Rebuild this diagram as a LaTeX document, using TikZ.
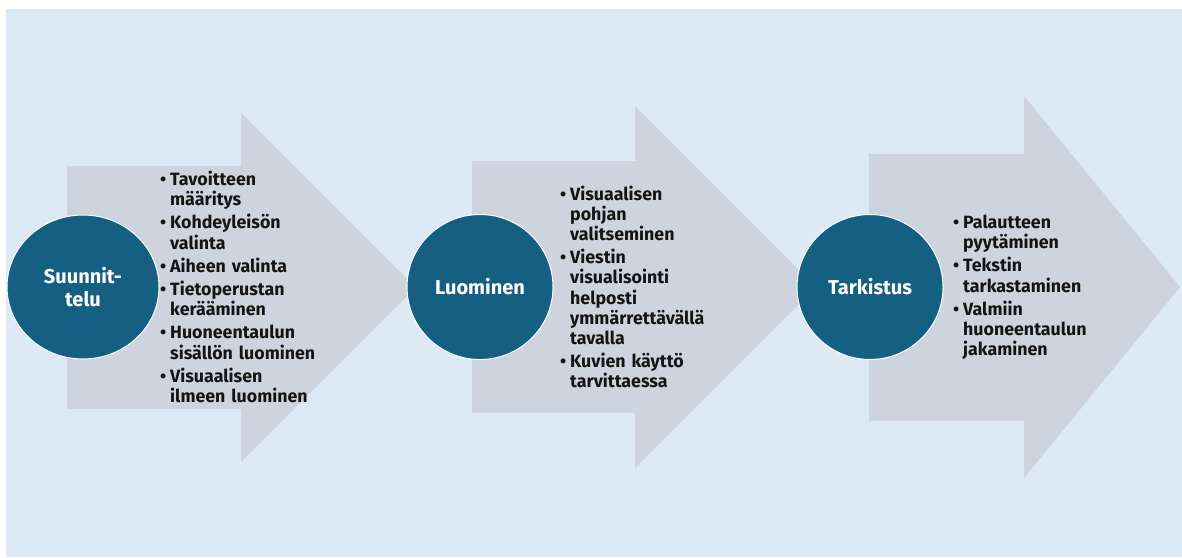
\documentclass[tikz,border=0pt]{standalone}
\usepackage{fontspec}
\setmainfont{Fira Sans}
\usepackage{enumitem}
\usepackage{tikz}
\usetikzlibrary{positioning,shapes.geometric}
\definecolor{PanelBlue}{RGB}{221,234,246}
\definecolor{ArrowGray}{RGB}{206,212,221}
\definecolor{StageTeal}{RGB}{21,96,130}
\definecolor{InkBlack}{RGB}{20,20,20}

\newenvironment{steplist}{%
  \begin{itemize}[leftmargin=10pt, labelsep=4pt, label=\textbullet,
    itemsep=3pt, topsep=0pt, parsep=0pt, partopsep=0pt]}{\end{itemize}}

\begin{document}
\begin{tikzpicture}[
  x=1pt, y=-1pt,
  stage/.style={ellipse, fill=StageTeal, draw=white, line width=1pt, inner sep=0pt,
    text=white, align=center, font=\bfseries\fontsize{20}{22.5}\selectfont},
  items/.style={anchor=west, inner sep=0pt, text width=180pt, text=InkBlack,
    font=\bfseries\fontsize{17.8}{20.2}\selectfont},
  shaft/.style={fill=ArrowGray}
]
  \useasboundingbox (0,0) rectangle (1182,557);
  \fill[PanelBlue] (6,9) rectangle (1182,557);

  % block arrows
  \fill[shaft] (67,166) -- (241,166) -- (241,113) -- (415.5,287.5) -- (241,462)
    -- (241,409) -- (67,409) -- cycle;
  \fill[shaft] (472,161) -- (635,161) -- (635,106) -- (816,287) -- (635,468)
    -- (635,413) -- (472,413) -- cycle;
  \fill[shaft] (869,154) -- (1024,154) -- (1024,96) -- (1180,287) -- (1024,478)
    -- (1024,421) -- (869,421) -- cycle;

  % stages
  \node[stage, minimum width=152pt, minimum height=144pt] (plan) at (83,287) {Suunnit-\\telu};
  \node[stage, minimum width=146pt, minimum height=145pt] (create) at (480,287) {Luominen};
  \node[stage, minimum width=146pt, minimum height=145pt] (check) at (870,287) {Tarkistus};

  % tasks
  \node[items] (plantasks) at (160,284) {\begin{steplist}
    \item Tavoitteen\\määritys
    \item Kohdeyleisön\\valinta
    \item Aiheen valinta
    \item Tietoperustan\\kerääminen
    \item Huoneentaulun\\sisällön luominen
    \item Visuaalisen\\ilmeen luominen
  \end{steplist}};
  \node[items] (createtasks) at (560,284) {\begin{steplist}
    \item Visuaalisen\\pohjan\\valitseminen
    \item Viestin\\visualisointi\\helposti\\ymmärrettävällä\\tavalla
    \item Kuvien käyttö\\tarvittaessa
  \end{steplist}};
  \node[items] (checktasks) at (953,284) {\begin{steplist}
    \item Palautteen\\pyytäminen
    \item Tekstin\\tarkastaminen
    \item Valmiin\\huoneentaulun\\jakaminen
  \end{steplist}};
\end{tikzpicture}
\end{document}
